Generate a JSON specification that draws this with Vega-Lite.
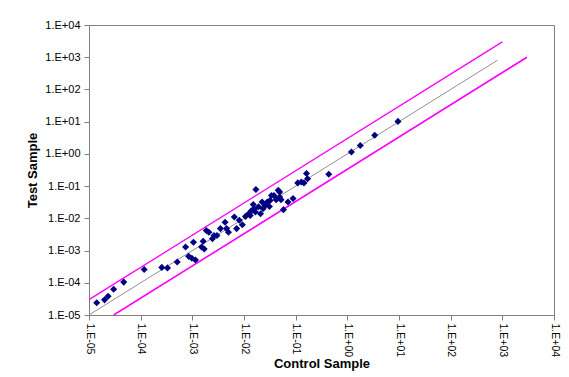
{
  "$schema": "https://vega.github.io/schema/vega-lite/v6.json",
  "autosize": "none",
  "padding": {"left": 89, "top": 25, "right": 15, "bottom": 62},
  "width": 465,
  "height": 290,
  "background": "white",
  "config": {
    "font": "Liberation Sans",
    "view": {"stroke": "#808080", "strokeWidth": 1},
    "axis": {
      "grid": false,
      "domainColor": "#808080",
      "tickColor": "#808080",
      "tickSize": 5,
      "labelColor": "black",
      "labelFontSize": 11,
      "titleFontSize": 13,
      "titleFontWeight": "bold",
      "titleColor": "black"
    }
  },
  "datasets": {
    "points": [
      {"x": 1.41e-5, "y": 2.4e-5},
      {"x": 2.0e-5, "y": 2.95e-5},
      {"x": 2.34e-5, "y": 3.8e-5},
      {"x": 3.0e-5, "y": 6.3e-5},
      {"x": 4.7e-5, "y": 1.05e-4},
      {"x": 1.17e-4, "y": 2.57e-4},
      {"x": 2.57e-4, "y": 3.0e-4},
      {"x": 3.3e-4, "y": 2.9e-4},
      {"x": 5.1e-4, "y": 4.4e-4},
      {"x": 7.4e-4, "y": 1.29e-3},
      {"x": 8.5e-4, "y": 6.6e-4},
      {"x": 9.8e-4, "y": 5.8e-4},
      {"x": 1.05e-3, "y": 1.82e-3},
      {"x": 1.15e-3, "y": 5.1e-4},
      {"x": 1.51e-3, "y": 1.29e-3},
      {"x": 1.62e-3, "y": 1.95e-3},
      {"x": 1.7e-3, "y": 1.12e-3},
      {"x": 1.86e-3, "y": 4.2e-3},
      {"x": 2.09e-3, "y": 3.7e-3},
      {"x": 2.45e-3, "y": 2.34e-3},
      {"x": 2.63e-3, "y": 2.95e-3},
      {"x": 3.0e-3, "y": 2.95e-3},
      {"x": 3.5e-3, "y": 4.8e-3},
      {"x": 4.3e-3, "y": 7.6e-3},
      {"x": 4.6e-3, "y": 4.8e-3},
      {"x": 5.0e-3, "y": 3.7e-3},
      {"x": 6.5e-3, "y": 1.1e-2},
      {"x": 7.2e-3, "y": 4.8e-3},
      {"x": 8.1e-3, "y": 8.7e-3},
      {"x": 9.3e-3, "y": 6.3e-3},
      {"x": 1.07e-2, "y": 1.15e-2},
      {"x": 1.23e-2, "y": 1.38e-2},
      {"x": 1.38e-2, "y": 1.7e-2},
      {"x": 1.51e-2, "y": 2.69e-2},
      {"x": 1.7e-2, "y": 7.8e-2},
      {"x": 1.66e-2, "y": 1.58e-2},
      {"x": 1.91e-2, "y": 2.29e-2},
      {"x": 2.09e-2, "y": 1.38e-2},
      {"x": 2.34e-2, "y": 2.0e-2},
      {"x": 2.57e-2, "y": 2.51e-2},
      {"x": 2.82e-2, "y": 3.2e-2},
      {"x": 3.1e-2, "y": 2.34e-2},
      {"x": 3.4e-2, "y": 5.1e-2},
      {"x": 3.8e-2, "y": 5.1e-2},
      {"x": 4.2e-2, "y": 3.8e-2},
      {"x": 4.6e-2, "y": 7.4e-2},
      {"x": 4.9e-2, "y": 4.6e-2},
      {"x": 5.2e-2, "y": 3.8e-2},
      {"x": 5.8e-2, "y": 1.86e-2},
      {"x": 7.1e-2, "y": 3.2e-2},
      {"x": 8.9e-2, "y": 4.1e-2},
      {"x": 0.11, "y": 0.126},
      {"x": 0.129, "y": 0.135},
      {"x": 0.145, "y": 0.126},
      {"x": 0.162, "y": 0.245},
      {"x": 0.17, "y": 0.17},
      {"x": 0.437, "y": 0.234},
      {"x": 1.2, "y": 1.15},
      {"x": 1.78, "y": 1.82},
      {"x": 3.39, "y": 3.8},
      {"x": 9.55, "y": 10.2},
      {"x": 3.2e-2, "y": 3.6e-2},
      {"x": 4.9e-2, "y": 6.6e-2},
      {"x": 2.24e-2, "y": 3.2e-2},
      {"x": 1.58e-2, "y": 2.0e-2},
      {"x": 1.32e-2, "y": 1.23e-2}
    ],
    "lines": [
      {"series": "equal", "x": 1e-5, "y": 1e-5},
      {"series": "equal", "x": 800, "y": 800},
      {"series": "upper", "x": 1e-5, "y": 3e-5},
      {"series": "upper", "x": 1000, "y": 3000},
      {"series": "lower", "x": 3e-5, "y": 1e-5},
      {"series": "lower", "x": 3000, "y": 1000}
    ]
  },
  "encoding": {
    "x": {
      "field": "x",
      "type": "quantitative",
      "scale": {"type": "log", "domain": [1e-5, 1e4], "nice": false},
      "axis": {
        "title": "Control Sample",
        "values": [1e-5, 1e-4, 1e-3, 1e-2, 1e-1, 1, 10, 100, 1000, 10000],
        "labelAngle": 90,
        "labelAlign": "left",
        "labelBaseline": "middle",
        "labelFontSize": 10.5,
        "labelPadding": 3,
        "titlePadding": 1,
        "labelFlush": false,
        "labelOverlap": false,
        "labelExpr": "'1.E' + (round(log(datum.value)/LN10) < 0 ? '-' : '+') + (abs(round(log(datum.value)/LN10)) < 10 ? '0' : '') + abs(round(log(datum.value)/LN10))"
      }
    },
    "y": {
      "field": "y",
      "type": "quantitative",
      "scale": {"type": "log", "domain": [1e-5, 1e4], "nice": false},
      "axis": {
        "title": "Test Sample",
        "values": [1e-5, 1e-4, 1e-3, 1e-2, 1e-1, 1, 10, 100, 1000, 10000],
        "labelPadding": 4,
        "titlePadding": 5,
        "labelFlush": false,
        "labelOverlap": false,
        "labelExpr": "'1.E' + (round(log(datum.value)/LN10) < 0 ? '-' : '+') + (abs(round(log(datum.value)/LN10)) < 10 ? '0' : '') + abs(round(log(datum.value)/LN10))"
      }
    }
  },
  "layer": [
    {
      "data": {"name": "lines"},
      "mark": {"type": "line", "clip": true},
      "encoding": {
        "detail": {"field": "series"},
        "color": {
          "field": "series",
          "type": "nominal",
          "scale": {"domain": ["equal", "upper", "lower"], "range": ["#909090", "#FF00FF", "#FF00FF"]},
          "legend": null
        },
        "strokeWidth": {
          "field": "series",
          "type": "nominal",
          "scale": {"domain": ["equal", "upper", "lower"], "range": [1, 1.6, 1.6]},
          "legend": null
        }
      }
    },
    {
      "data": {"name": "points"},
      "mark": {"type": "point", "shape": "diamond", "filled": true, "size": 50, "color": "#000080", "opacity": 1}
    }
  ]
}
